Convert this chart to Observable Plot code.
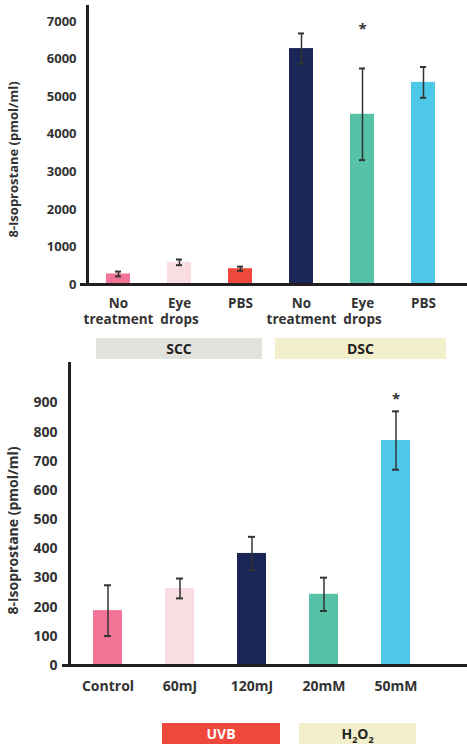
<!DOCTYPE html>
<html>
<head>
<meta charset="utf-8">
<script src="https://cdn.jsdelivr.net/npm/d3@7"></script>
<script src="https://cdn.jsdelivr.net/npm/@observablehq/plot@0.6"></script>
<style>
  body { margin: 0; background: #fff; }
  #wrap { position: relative; width: 467px; height: 744px; background: #fff; overflow: hidden; font-family: "Open Sans", sans-serif; }
  .chart { position: absolute; left: 0; }
  .box { position: absolute; display: flex; align-items: center; justify-content: center;
         font-weight: 700; font-size: 14px; color: #222; line-height: 1; }
  .box sub { font-size: 9px; vertical-align: -4px; line-height: 0; }
</style>
</head>
<body>
<div id="wrap">
  <div id="top" class="chart" style="top:0"></div>
  <div id="bottom" class="chart" style="top:355px"></div>
  <div class="box" style="left:96px;top:338px;width:166px;height:21px;background:#e3e3de"><span>SCC</span></div>
  <div class="box" style="left:275px;top:338px;width:171px;height:21px;background:#f1efcc"><span>DSC</span></div>
  <div class="box" style="left:162px;top:723px;width:118px;height:21px;background:#f0473c;color:#fff"><span>UVB</span></div>
  <div class="box" style="left:299px;top:723px;width:117px;height:21px;background:#f1efcc"><span>H<sub>2</sub>O<sub>2</sub></span></div>
</div>
<script>
// ---------- data: top chart ----------
const topGroups = ["SCC", "SCC", "SCC", "DSC", "DSC", "DSC"];
const topLabels = ["No\ntreatment", "Eye\ndrops", "PBS", "No\ntreatment", "Eye\ndrops", "PBS"];
const topValues = [280, 590, 420, 6280, 4530, 5380];
const topErrors = [65, 75, 55, 403, 1220, 410];
const topTicks = [0, 1000, 2000, 3000, 4000, 5000, 6000, 7000];
const topSigIndex = [4];
const topSigY = [6894];

// ---------- data: bottom chart ----------
const botLabels = ["Control", "60mJ", "120mJ", "20mM", "50mM"];
const botValues = [188, 264, 384, 244, 771];
const botErrors = [87, 34, 57, 57, 100];
const botTicks = [0, 100, 200, 300, 400, 500, 600, 700, 800, 900];
const botSigIndex = [4];
const botSigY = [928];

const yLabel = "8-Isoprostane (pmol/ml)";

// palettes
const topPalette = ["#f27598", "#f9dde3", "#ef473b", "#1a2756", "#56c3a8", "#4dc8e9"];
const botPalette = ["#f27598", "#f9dde3", "#1a2756", "#56c3a8", "#4dc8e9"];

const ink = "#231f20";
const textInk = "#333333";

// ---------- top chart ----------
const topKeys = topGroups.map((g, i) => g + "|" + topLabels[i]);
const topData = topKeys.map((k, i) => ({key: k, value: topValues[i], err: topErrors[i]}));
const topSig = topSigIndex.map((idx, j) => ({key: topKeys[idx], y: topSigY[j]}));

const topPlot = Plot.plot({
  width: 467, height: 330,
  marginLeft: 87, marginRight: 0, marginTop: 6, marginBottom: 46,
  style: {fontFamily: "Open Sans", fontWeight: 700, color: textInk, background: "white", overflow: "visible"},
  x: {domain: topKeys, range: [87, 454], paddingInner: 0.6, paddingOuter: 0.308, axis: null, label: null},
  y: {domain: [0, 7400], axis: null, label: null},
  color: {domain: topKeys, range: topPalette},
  marks: [
    Plot.barY(topData, {x: "key", y: "value", fill: "key"}),
    Plot.ruleX(topData, {x: "key", y1: d => d.value - d.err, y2: d => d.value + d.err, stroke: textInk, strokeWidth: 1.5}),
    Plot.tickY(topData, {x: "key", y: d => d.value + d.err, stroke: textInk, strokeWidth: 2, insetLeft: 9, insetRight: 9}),
    Plot.tickY(topData, {x: "key", y: d => d.value - d.err, stroke: textInk, strokeWidth: 2, insetLeft: 9, insetRight: 9}),
    Plot.text(topSig, {x: "key", y: "y", text: () => "*", fontSize: 15, fill: textInk, dy: 4}),
    Plot.frame({anchor: "left", stroke: ink, strokeWidth: 3}),
    Plot.ruleY([0], {stroke: ink, strokeWidth: 3}),
    Plot.axisY({ticks: topTicks, tickSize: 0, tickPadding: 11, fontSize: 13, fill: textInk, label: null, tickFormat: d => String(d)}),
    Plot.axisY({ticks: [0], tickSize: 7, stroke: ink, strokeWidth: 3, label: null, tickFormat: () => ""}),
    Plot.axisX({tickSize: 0, tickPadding: 12.5, fontSize: 13.5, lineHeight: 1.18, fill: textInk, label: null, tickFormat: k => k.split("|")[1]}),
    Plot.text([yLabel], {frameAnchor: "left", textAnchor: "middle", rotate: -90, dx: -74, dy: 14, fontSize: 13, fill: textInk})
  ]
});
document.getElementById("top").append(topPlot);

// ---------- bottom chart ----------
const botData = botLabels.map((k, i) => ({key: k, value: botValues[i], err: botErrors[i]}));
const botSig = botSigIndex.map((idx, j) => ({key: botLabels[idx], y: botSigY[j]}));

const botPlot = Plot.plot({
  width: 467, height: 345,
  marginLeft: 69, marginRight: 0, marginTop: 8, marginBottom: 35,
  style: {fontFamily: "Open Sans", fontWeight: 700, color: textInk, background: "white", overflow: "visible"},
  x: {domain: botLabels, range: [69, 434], paddingInner: 0.6, paddingOuter: 0.333, axis: null, label: null},
  y: {domain: [0, 1035], axis: null, label: null},
  color: {domain: botLabels, range: botPalette},
  marks: [
    Plot.barY(botData, {x: "key", y: "value", fill: "key"}),
    Plot.ruleX(botData, {x: "key", y1: d => d.value - d.err, y2: d => d.value + d.err, stroke: textInk, strokeWidth: 1.5}),
    Plot.tickY(botData, {x: "key", y: d => d.value + d.err, stroke: textInk, strokeWidth: 2, insetLeft: 11, insetRight: 11}),
    Plot.tickY(botData, {x: "key", y: d => d.value - d.err, stroke: textInk, strokeWidth: 2, insetLeft: 11, insetRight: 11}),
    Plot.text(botSig, {x: "key", y: "y", text: () => "*", fontSize: 15, fill: textInk, dy: 4}),
    Plot.frame({anchor: "left", stroke: ink, strokeWidth: 3}),
    Plot.ruleY([0], {stroke: ink, strokeWidth: 3}),
    Plot.axisY({ticks: botTicks, tickSize: 0, tickPadding: 12, fontSize: 14, fill: textInk, label: null, tickFormat: d => String(d)}),
    Plot.axisY({ticks: [0], tickSize: 7, stroke: ink, strokeWidth: 3, label: null, tickFormat: () => ""}),
    Plot.axisX({tickSize: 0, tickPadding: 16, fontSize: 14, fill: textInk, label: null}),
    Plot.text([yLabel], {frameAnchor: "left", textAnchor: "middle", rotate: -90, dx: -56, dy: 16, fontSize: 14, fill: textInk})
  ]
});
document.getElementById("bottom").append(botPlot);
</script>
</body>
</html>
